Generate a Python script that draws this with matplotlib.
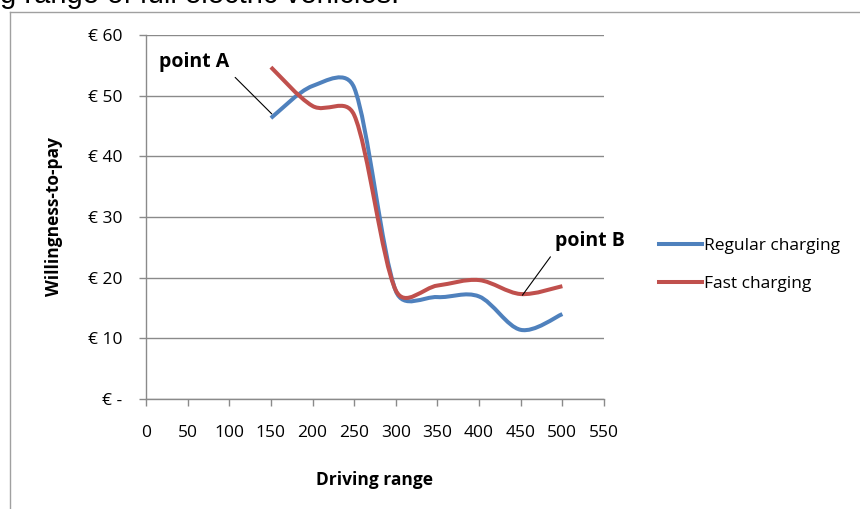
import matplotlib
matplotlib.use("Agg")
import numpy as np
import matplotlib.pyplot as plt
from matplotlib.path import Path
from matplotlib.patches import PathPatch
from matplotlib.lines import Line2D

FONT = "Open Sans"
plt.rcParams['font.family'] = [FONT, 'DejaVu Sans']

# values
driving_range = [150, 200, 250, 300, 350, 400, 450, 500]
regular = [46.3, 51.6, 51.3, 17.8, 16.8, 16.9, 11.4, 14.0]
fast = [54.7, 48.3, 46.8, 17.9, 18.7, 19.6, 17.3, 18.6]

x_ticks = list(range(0, 551, 50))
y_ticks = [0, 10, 20, 30, 40, 50, 60]
y_labels = ["€ -", "€ 10", "€ 20", "€ 30", "€ 40", "€ 50", "€ 60"]

BLUE = "#4F81BD"
RED = "#C0504D"
GRID = "#8a8a8a"


def smooth_path(ax, xs, ys):
    """Excel-like smoothed line, worked out in screen space:
    cubic Bezier, 1/6 tangents, arm never longer than half the segment."""
    P = ax.transData.transform(np.column_stack([xs, ys]))
    n = len(P)
    verts = [P[0]]
    codes = [Path.MOVETO]
    for i in range(n - 1):
        p0 = P[i - 1] if i > 0 else P[i]
        p1 = P[i]
        p2 = P[i + 1]
        p3 = P[i + 2] if i + 2 < n else P[i + 1]
        d12 = np.hypot(*(p2 - p1))
        d02 = np.hypot(*(p2 - p0))
        d13 = np.hypot(*(p3 - p1))
        f1 = 1 / 6 if d02 == 0 else min(1 / 6, d12 / (2 * d02))
        f2 = 1 / 6 if d13 == 0 else min(1 / 6, d12 / (2 * d13))
        verts += [p1 + (p2 - p0) * f1, p2 - (p3 - p1) * f2, p2]
        codes += [Path.CURVE4] * 3
    verts = ax.transData.inverted().transform(np.array(verts))
    return Path(verts, codes)


W, H = 860, 509
fig = plt.figure(figsize=(W / 100, H / 100), dpi=100)
ax = fig.add_axes([146 / W, 1 - 399 / H, (604 - 146) / W, (399 - 35) / H])
ax.set_xlim(0, 550)
ax.set_ylim(0, 60)

for ys, col in [(regular, BLUE), (fast, RED)]:
    patch = PathPatch(smooth_path(ax, driving_range, ys), facecolor="none",
                      edgecolor=col, lw=2.9, capstyle="butt", joinstyle="round",
                      zorder=3)
    ax.add_patch(patch)

ax.set_xticks(x_ticks)
ax.set_yticks(y_ticks)
ax.set_yticklabels(y_labels)
ax.grid(axis="y", color=GRID, lw=1.0)
ax.set_axisbelow(True)
for s in ["top", "right"]:
    ax.spines[s].set_visible(False)
for s in ["left", "bottom"]:
    ax.spines[s].set_color(GRID)
    ax.spines[s].set_linewidth(1.0)
ax.tick_params(axis="both", colors=GRID, length=5, width=1.0, labelsize=12.5,
               labelcolor="black")
ax.tick_params(axis="y", pad=12)
ax.tick_params(axis="x", pad=14)

ax.set_xlabel("Driving range", fontsize=12.5, fontweight="bold", labelpad=21)
ax.set_ylabel("Willingness-to-pay", fontsize=12.5, fontweight="bold", labelpad=18)

ax.annotate("point A", xy=(151, 47.0), xytext=(58, 55.6), fontsize=14,
            fontweight="bold", ha="center", va="center",
            arrowprops=dict(arrowstyle="-", color="black", lw=0.8,
                            relpos=(1, 0), shrinkA=3, shrinkB=0))
ax.annotate("point B", xy=(452, 17.1), xytext=(533, 26.1), fontsize=14,
            fontweight="bold", ha="center", va="center", annotation_clip=False,
            arrowprops=dict(arrowstyle="-", color="black", lw=0.8,
                            relpos=(0, 0), shrinkA=3, shrinkB=0))

handles = [Line2D([], [], color=BLUE, lw=2.9), Line2D([], [], color=RED, lw=2.9)]
ax.legend(handles, ["Regular charging", "Fast charging"], loc="upper left",
          bbox_to_anchor=(652 / W, 1 - 231 / H), bbox_transform=fig.transFigure,
          frameon=False, fontsize=12.5, handlelength=2.5, handletextpad=0.1,
          labelspacing=1.25, borderaxespad=0)

# chart-area border and the clipped caption above it
fig.add_artist(Line2D([10 / W, 10 / W], [0, 1 - 12 / H], color="#a0a0a0", lw=1.0))
fig.add_artist(Line2D([10 / W, 1], [1 - 12 / H, 1 - 12 / H], color="#a0a0a0", lw=1.0))
fig.text(0, 1 - 3 / H, "g range of full electric vehicles.", fontsize=21,
         family="Liberation Sans", va="baseline", ha="left")

fig.savefig("out.png", dpi=100)
